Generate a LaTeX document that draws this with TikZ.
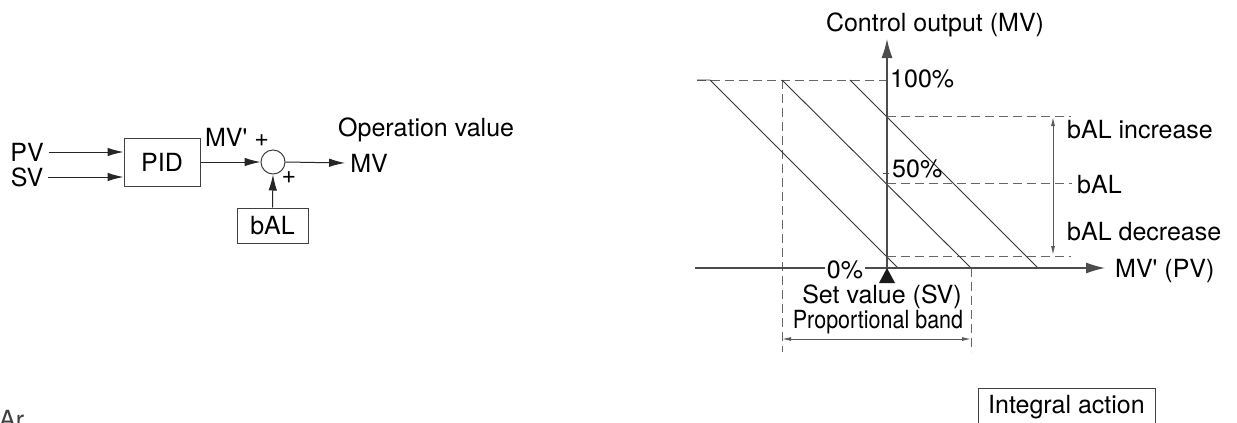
\documentclass[tikz,border=0pt]{standalone}
\usepackage{fontspec}
\setmainfont{TeX Gyre Heros}
\usetikzlibrary{arrows.meta}
\begin{document}
\begin{tikzpicture}[x=1pt,y=-1pt,
  txt/.style={font=\fontsize{25}{30}\selectfont, inner sep=0pt, text=black},
  blk/.style={txt, draw=black!75, line width=1pt},
  conn/.style={draw=black!85, line width=1pt, -{Latex[length=16pt,width=8.5pt]}},
  axis/.style={draw=black!70, line width=1.2pt, -{Latex[length=19pt,width=11pt]}},
  dsh/.style={draw=black!60, line width=1pt, dash pattern=on 9pt off 5pt},
  diag/.style={draw=black!80, line width=0.9pt},
  dim/.style={draw=black!65, line width=1pt, {Latex[length=9pt,width=4pt]}-{Latex[length=9pt,width=4pt]}}]
\useasboundingbox (0,0) rectangle (1237,423);

% ---------- left block diagram ----------
\node[txt] (pv) at (27,152) {PV};
\node[txt] (sv) at (27,177) {SV};
\node[blk, minimum width=76pt, minimum height=48pt] (pid) at (162,162) {PID};
\node[circle, draw=black!75, line width=1pt, minimum size=24pt, inner sep=0pt] (sum) at (273,162) {};
\node[blk, minimum width=71pt, minimum height=35pt] (bal) at (272.5,225.5) {bAL};
\node[txt] (mvp) at (237,137) {MV\textquotesingle\ +};
\node[txt] (plus) at (289,178) {+};
\node[txt, anchor=west] (op) at (338,130) {Operation value};
\node[txt] (mv) at (369,163) {MV};

\draw[conn] ([xshift=5pt]pv.east) -- (pid.west |- pv.east);
\draw[conn] ([xshift=5pt]sv.east) -- (pid.west |- sv.east);
\draw[conn] (pid.east |- sum) -- (sum.west);
\draw[conn] (sum.east) -- ([xshift=-5pt]mv.west);
\draw[conn] (bal.north) -- (sum.south);

% ---------- right characteristic ----------
\coordinate (O) at (887,268);
\coordinate (ytop) at (887,39);
\coordinate (xl) at (695,268);
\coordinate (xr) at (1105,268);

% dashed guides
\coordinate (h100l) at (697,80);
\coordinate (h100r) at (887,80);
\draw[dsh] (h100l) -- (h100r);
\coordinate (pbl) at (782,80);
\coordinate (pblb) at (782,352);
\draw[dsh] (pbl) -- (pblb);
\coordinate (pbr) at (971,268);
\coordinate (pbrb) at (971,352);
\draw[dsh] (pbr) -- (pbrb);
\coordinate (inc0) at (887,116);
\coordinate (inc1) at (1071,116);
\coordinate (mid0) at (887,183);
\coordinate (mid1) at (1072,183);
\coordinate (dec0) at (887,256);
\coordinate (dec1) at (1071,256);
\draw[dsh] (inc0) -- (inc1);
\draw[dsh] (mid0) -- (mid1);
\draw[dsh] (dec0) -- (dec1);

% characteristic lines
\coordinate (a0) at (697,80);
\coordinate (a1) at (710,80);
\coordinate (a2) at (898,268);
\coordinate (b1) at (782,80);
\coordinate (b2) at (971,268);
\coordinate (c1) at (850,80);
\coordinate (c2) at (1038,268);
\draw[diag] (a0) -- (a1) -- (a2);
\draw[diag] (b1) -- (b2);
\draw[diag] (c1) -- (c2);

% axes
\draw[axis] (xl) -- (xr);
\draw[axis] (O) -- (ytop);

% tick near 50%
\coordinate (t0) at (883,173);
\coordinate (t1) at (889,173);
\draw[draw=black!70, line width=0.8pt] (t0) -- (t1);

% set value marker
\fill[black!90] (O) -- ++(-8,15) -- ++(16,0) -- cycle;

% bAL range arrow
\coordinate (r0) at (1053,117);
\coordinate (r1) at (1053,255);
\draw[dim] (r0) -- (r1);

% proportional band arrow
\coordinate (p0) at (782,339);
\coordinate (p1) at (971,339);
\draw[dim] (p0) -- (p1);

% labels
\node[txt] (cout) at (935,25) {Control output (MV)};
\node[txt, anchor=west] (l100) at (890,79) {100\%};
\node[txt, anchor=west] (l50) at (892,169) {50\%};
\node[txt, fill=white, inner xsep=2pt] (l0) at (845,270) {0\%};
\node[txt, anchor=west] (linc) at (1067,130) {bAL increase};
\node[txt, anchor=west] (lbal) at (1077,185) {bAL};
\node[txt, anchor=west] (ldec) at (1067,232) {bAL decrease};
\node[txt, anchor=west] (lx) at (1115,271) {MV\textquotesingle\ (PV)};
\node[txt] (lsv) at (882,297) {Set value (SV)};
\node[txt, xscale=0.86] (lpb) at (878,322) {Proportional band};

% ---------- cut-off items at bottom ----------
\begin{scope}
\clip (0,0) rectangle (1237,423);
\node[txt, anchor=north west, text=black!75] (ar) at (-1,410) {Ar};
\node[draw=black!75, line width=1pt, minimum width=177pt, minimum height=60pt, anchor=north west, inner sep=0pt] (ibox) at (978,388) {};
\node[txt] (itxt) at (1066.5,407) {Integral action};
\end{scope}
\end{tikzpicture}
\end{document}
